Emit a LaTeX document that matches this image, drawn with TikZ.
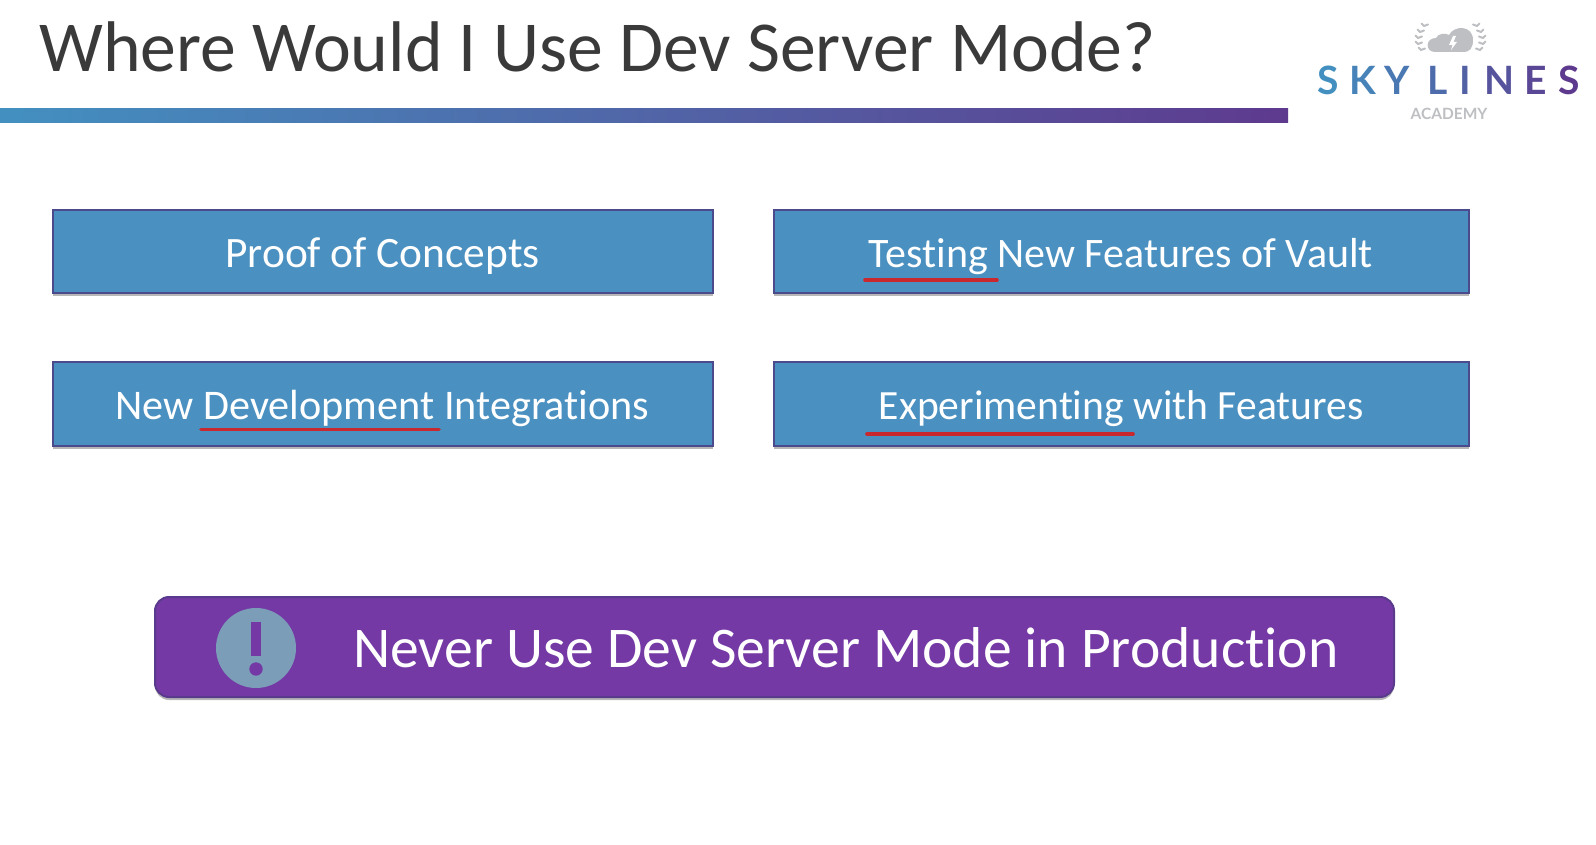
\documentclass[tikz,border=0pt]{standalone}
\usepackage{fontspec}
\setmainfont[RawFeature=-liga]{Carlito}
\newfontfamily\logofont{Lato}
\usetikzlibrary{shadows}
\definecolor{boxblue}{HTML}{4A90C0}
\definecolor{boxedge}{HTML}{4A4A8C}
\definecolor{vpurple}{HTML}{7439A4}
\definecolor{vedge}{HTML}{5A3A8C}
\definecolor{redline}{HTML}{C8282E}
\definecolor{titlec}{HTML}{3A3A3A}
\definecolor{barL}{HTML}{4390C0}
\definecolor{barR}{HTML}{5E3A8E}
\definecolor{logogray}{HTML}{BDBFC2}
\definecolor{iconblue}{HTML}{7B9DB8}
\tikzset{
  x=1pt,y=-1pt,
  softshadow/.style={drop shadow={shadow xshift=0pt,shadow yshift=-3pt,opacity=.35,fill=black!80}},
  usebox/.style={draw=boxedge,line width=2pt,fill=boxblue,inner sep=0pt,softshadow},
  boxtext/.style={text=white,anchor=base,inner sep=0pt},
  uline/.style={draw=redline,line width=3.6pt,line cap=round},
  logoL/.style={font=\logofont\fontsize{39}{39}\selectfont\bfseries,anchor=base,inner sep=0pt},
  leaf/.style={draw=logogray,line width=2pt,line cap=round},
}
\newcommand{\fs}[1]{\fontsize{#1}{#1}\selectfont}
\begin{document}
\begin{tikzpicture}
\useasboundingbox (0,0) rectangle (1596,845);
\fill[white] (0,0) rectangle (1596,845);
% title
\node[anchor=base west,inner sep=0pt,text=titlec,font=\fs{71.7}] (title) at (39,72) {Where Would I Use Dev Server Mode?};
\shade[left color=barL,right color=barR] (0,109) rectangle (1288,123);
% boxes
\path[usebox] (53,210) rectangle (712.5,293);
\path[usebox] (773.5,210) rectangle (1469,293);
\path[usebox] (53,362) rectangle (712.5,446);
\path[usebox] (773.5,362) rectangle (1469,446);
\node[boxtext,font=\fs{43.4}] (a) at (382.5,267) {Proof of Concepts};
\node[boxtext,font=\fs{42}] (b) at (1121,267) {Testing New Features of Vault};
\node[boxtext,font=\fs{42.2}] (c) at (382.5,419) {New Development Integrations};
\node[boxtext,font=\fs{41.6}] (d) at (1121,419) {Experimenting with Features};
% underlines
\draw[uline] (865,280) -- (997,280);
\draw[uline] (201,429.5) -- (439,429.5);
\draw[uline] (867,434) -- (1133,434);
% banner
\path[draw=vedge,line width=2pt,fill=vpurple,rounded corners=14pt,softshadow]
  (155,597) rectangle (1394,697);
\fill[iconblue] (256,648) circle (40);
\fill[vpurple] (251.2,622) rectangle (260.8,656);
\fill[vpurple] (256,669) circle (6.7);
\node[anchor=base west,inner sep=0pt,text=white,font=\fs{57.6}] (n) at (353,667) {Never Use Dev Server Mode in Production};
% logo
\fill[logogray] (1435,52) .. controls (1425,52) and (1425,38) .. (1436,38)
  .. controls (1438,33) and (1446,33) .. (1449,35)
  .. controls (1454,25) and (1473,25) .. (1473,40)
  .. controls (1473,48) and (1470,52) .. (1463,52) -- cycle;
\fill[white] (1453,36) -- (1449,45) -- (1452.5,45) -- (1451,50) -- (1457,42) -- (1453.5,42) -- (1456,36) -- cycle;
\foreach \yy/\xx in {26/7,32/3,38/1,44/1,50/4}{
  \draw[leaf] (1417+\xx,\yy) -- ++(-2.5,-2.5);
  \draw[leaf] (1417+\xx,\yy) -- ++(4,-1.5);
  \draw[leaf] (1484-\xx,\yy) -- ++(2.5,-2.5);
  \draw[leaf] (1484-\xx,\yy) -- ++(-4,-1.5);
}
\node[logoL,text=barL] (l1) at (1328,95) {S};
\node[logoL,text=barL!85!barR] (l2) at (1363,95) {K};
\node[logoL,text=barL!72!barR] (l3) at (1397,95) {Y};
\node[logoL,text=barL!58!barR] (l4) at (1438,95) {L};
\node[logoL,text=barL!45!barR] (l5) at (1465,95) {I};
\node[logoL,text=barL!30!barR] (l6) at (1500,95) {N};
\node[logoL,text=barL!15!barR] (l7) at (1536,95) {E};
\node[logoL,text=barR] (l8) at (1569,95) {S};
\node[anchor=base,inner sep=0pt,text=logogray,font=\logofont\fs{15.5}\bfseries] (ac) at (1449,120) {ACADEMY};
\end{tikzpicture}
\end{document}
